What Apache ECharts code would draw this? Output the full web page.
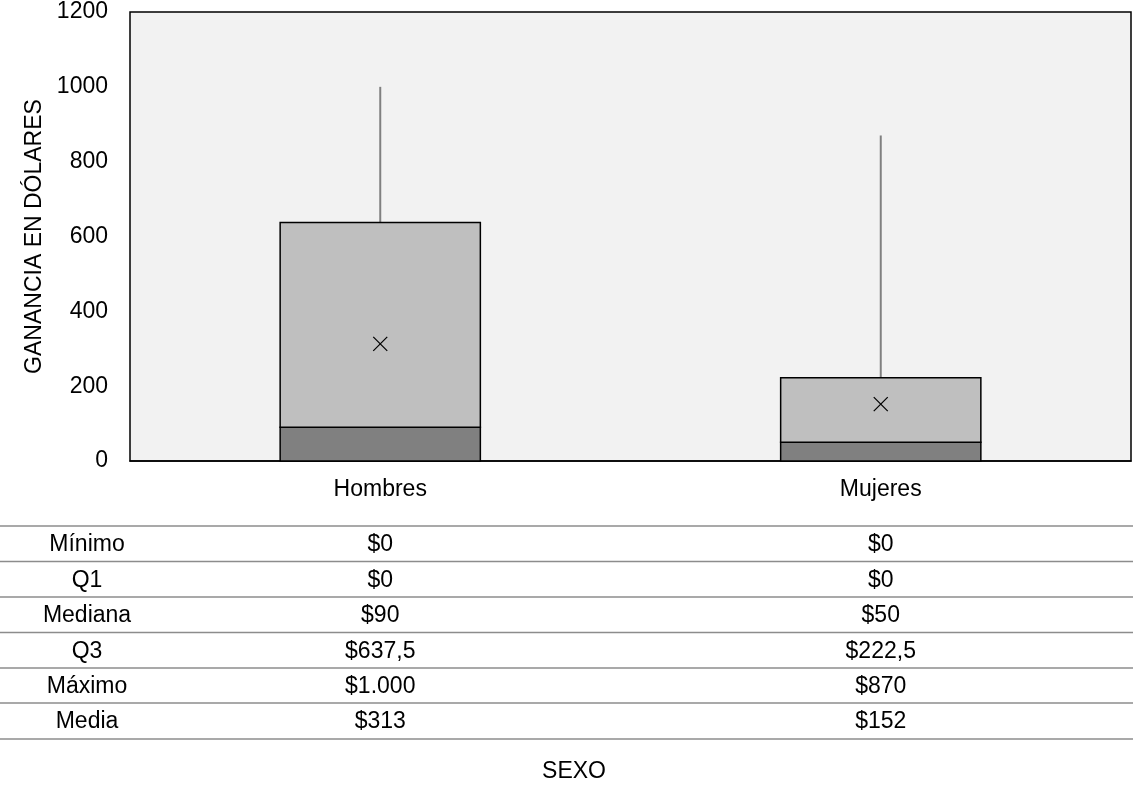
<!DOCTYPE html>
<html>
<head>
<meta charset="utf-8">
<script src="https://cdn.jsdelivr.net/npm/echarts@6/dist/echarts.min.js"></script>
<style>
  html, body { margin: 0; padding: 0; background: #fff; }
  #main { width: 1133px; height: 786px; }
</style>
</head>
<body>
<div id="main"></div>
<script>
// datos del diagrama de caja
var categorias = ['Hombres', 'Mujeres'];
var minimos = [0, 0];
var q1s = [0, 0];
var medianas = [90, 50];
var q3s = [637.5, 222.5];
var maximos = [1000, 870];
var medias = [313, 152];
var filasTabla = ['Mínimo', 'Q1', 'Mediana', 'Q3', 'Máximo', 'Media'];
var yTicks = [0, 200, 400, 600, 800, 1000, 1200];

var fuente = 'Liberation Sans, Arial, sans-serif';
var tam = 23;
var chart = echarts.init(document.getElementById('main'));

// formato en español: miles con punto, decimales con coma
function dinero(v) {
    var partes = String(v).split('.');
    var entero = partes[0].replace(/\B(?=(\d{3})+(?!\d))/g, '.');
    return '$' + entero + (partes[1] ? ',' + partes[1] : '');
}

var datos = categorias.map(function (c, i) {
    return [i, minimos[i], q1s[i], medianas[i], q3s[i], maximos[i], medias[i]];
});

function dibujaCaja(params, api) {
    var x = api.value(0);
    var pMin = api.coord([x, api.value(1)]);
    var pQ1 = api.coord([x, api.value(2)]);
    var pMed = api.coord([x, api.value(3)]);
    var pQ3 = api.coord([x, api.value(4)]);
    var pMax = api.coord([x, api.value(5)]);
    var pMedia = api.coord([x, api.value(6)]);
    var ancho = api.size([1, 0])[0] * 0.4;
    var izq = pQ1[0] - ancho / 2;
    var s = 7;
    return {
        type: 'group',
        children: [
            { type: 'line', shape: { x1: pMax[0], y1: pMax[1], x2: pQ3[0], y2: pQ3[1] },
              style: { stroke: '#808080', lineWidth: 2 } },
            { type: 'line', shape: { x1: pMin[0], y1: pMin[1], x2: pQ1[0], y2: pQ1[1] },
              style: { stroke: '#808080', lineWidth: 2 } },
            { type: 'rect', shape: { x: izq, y: pMed[1], width: ancho, height: pQ1[1] - pMed[1] },
              style: { fill: '#808080', stroke: '#000', lineWidth: 1.5 } },
            { type: 'rect', shape: { x: izq, y: pQ3[1], width: ancho, height: pMed[1] - pQ3[1] },
              style: { fill: '#bfbfbf', stroke: '#000', lineWidth: 1.5 } },
            { type: 'line', shape: { x1: pMedia[0] - s, y1: pMedia[1] - s, x2: pMedia[0] + s, y2: pMedia[1] + s },
              style: { stroke: '#000', lineWidth: 1.3 } },
            { type: 'line', shape: { x1: pMedia[0] - s, y1: pMedia[1] + s, x2: pMedia[0] + s, y2: pMedia[1] - s },
              style: { stroke: '#000', lineWidth: 1.3 } }
        ]
    };
}

chart.setOption({
    animation: false,
    textStyle: { fontFamily: fuente },
    grid: {
        left: 130, right: 2, top: 12, bottom: 325,
        show: true, backgroundColor: '#f2f2f2', borderColor: '#000', borderWidth: 1.5
    },
    xAxis: {
        type: 'category',
        data: categorias,
        axisLine: { show: true, lineStyle: { color: '#000', width: 1.5 } },
        axisTick: { show: false },
        axisLabel: { color: '#000', fontSize: tam, fontFamily: fuente, margin: 17 }
    },
    yAxis: {
        type: 'value',
        min: yTicks[0],
        max: yTicks[yTicks.length - 1],
        interval: yTicks[1] - yTicks[0],
        name: 'GANANCIA EN DÓLARES',
        nameLocation: 'middle',
        nameGap: 84,
        nameRotate: 90,
        nameTextStyle: { color: '#000', fontSize: tam, fontFamily: fuente },
        axisLine: { show: false },
        axisTick: { show: false },
        splitLine: { show: false },
        axisLabel: { color: '#000', fontSize: tam, fontFamily: fuente, margin: 22,
                     formatter: function (v) { return String(v); } }
    },
    series: [{
        type: 'custom',
        renderItem: dibujaCaja,
        data: datos,
        encode: { x: 0, y: [1, 2, 3, 4, 5, 6] }
    }]
});

// tabla de estadísticos debajo del gráfico
var lineasY = [526, 561.5, 597, 632.5, 668, 703, 739];
var columnas = {
    'Mínimo': minimos, 'Q1': q1s, 'Mediana': medianas,
    'Q3': q3s, 'Máximo': maximos, 'Media': medias
};
var graficos = [];
lineasY.forEach(function (y) {
    graficos.push({ type: 'line', shape: { x1: 0, y1: y, x2: 1133, y2: y },
        style: { stroke: '#8c8c8c', lineWidth: 1.5 } });
});
filasTabla.forEach(function (nombre, r) {
    var yc = (lineasY[r] + lineasY[r + 1]) / 2 + 1;
    graficos.push({ type: 'text', x: 87, y: yc,
        style: { text: nombre, fill: '#000', font: tam + 'px ' + fuente, align: 'center', verticalAlign: 'middle' } });
    categorias.forEach(function (c, i) {
        var xc = chart.convertToPixel({ xAxisIndex: 0 }, c);
        graficos.push({ type: 'text', x: xc, y: yc,
            style: { text: dinero(columnas[nombre][i]), fill: '#000', font: tam + 'px ' + fuente,
                     align: 'center', verticalAlign: 'middle' } });
    });
});
graficos.push({ type: 'text', x: 574, y: 772,
    style: { text: 'SEXO', fill: '#000', font: tam + 'px ' + fuente, align: 'center', verticalAlign: 'middle' } });

chart.setOption({ graphic: graficos });
</script>
</body>
</html>
